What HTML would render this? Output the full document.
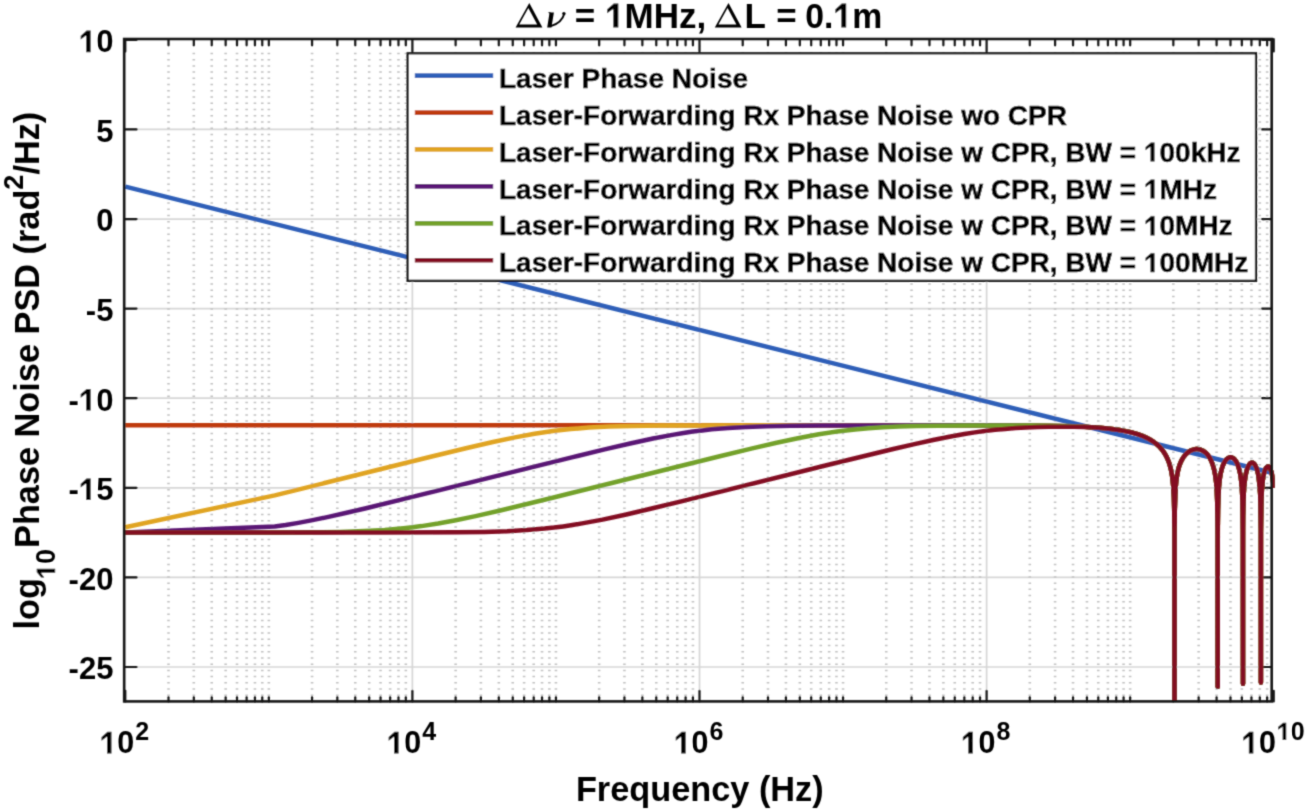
<!DOCTYPE html>
<html><head><meta charset="utf-8"><style>
html,body{margin:0;padding:0;background:#fff;}
body{width:1307px;height:811px;position:relative;overflow:hidden;font-family:"Liberation Sans",sans-serif;}
</style></head><body>
<svg width="1307" height="811" viewBox="0 0 1307 811" style="position:absolute;left:0;top:0"><defs><filter id="soft" filterUnits="userSpaceOnUse" x="0" y="0" width="1307" height="811"><feConvolveMatrix order="3" kernelMatrix="0.0622 0.2494 0.0622 0.2494 1.0000 0.2494 0.0622 0.2494 0.0622" edgeMode="none"></feConvolveMatrix></filter></defs><g filter="url(#soft)"><defs><clipPath id="ax"><rect x="121.2" y="39.0" width="1153.5" height="662.4"></rect></clipPath></defs><path d="M412.40,701.40V39.00M699.50,701.40V39.00M986.60,701.40V39.00M124.20,129.44H1271.70M124.20,219.03H1271.70M124.20,308.62H1271.70M124.20,398.22H1271.70M124.20,487.82H1271.70M124.20,577.41H1271.70M124.20,667.00H1271.70" stroke="#d6d6d6" stroke-width="1.7" fill="none"></path><path d="M168.51,702.30V48.2M193.79,702.30V48.2M211.73,702.30V48.2M225.64,702.30V48.2M237.00,702.30V48.2M246.61,702.30V48.2M254.94,702.30V48.2M262.28,702.30V48.2M268.85,702.30V48.2M312.06,702.30V48.2M337.34,702.30V48.2M355.28,702.30V48.2M369.19,702.30V48.2M380.55,702.30V48.2M390.16,702.30V48.2M398.49,702.30V48.2M405.83,702.30V48.2M455.61,702.30V48.2M480.89,702.30V48.2M498.83,702.30V48.2M512.74,702.30V48.2M524.10,702.30V48.2M533.71,702.30V48.2M542.04,702.30V48.2M549.38,702.30V48.2M555.95,702.30V48.2M599.16,702.30V48.2M624.44,702.30V48.2M642.38,702.30V48.2M656.29,702.30V48.2M667.65,702.30V48.2M677.26,702.30V48.2M685.59,702.30V48.2M692.93,702.30V48.2M742.71,702.30V48.2M767.99,702.30V48.2M785.93,702.30V48.2M799.84,702.30V48.2M811.20,702.30V48.2M820.81,702.30V48.2M829.14,702.30V48.2M836.48,702.30V48.2M843.05,702.30V48.2M886.26,702.30V48.2M911.54,702.30V48.2M929.48,702.30V48.2M943.39,702.30V48.2M954.75,702.30V48.2M964.36,702.30V48.2M972.69,702.30V48.2M980.03,702.30V48.2M1029.81,702.30V48.2M1055.09,702.30V48.2M1073.03,702.30V48.2M1086.94,702.30V48.2M1098.30,702.30V48.2M1107.91,702.30V48.2M1116.24,702.30V48.2M1123.58,702.30V48.2M1130.15,702.30V48.2M1173.36,702.30V48.2M1198.64,702.30V48.2M1216.58,702.30V48.2M1230.49,702.30V48.2M1241.85,702.30V48.2M1251.46,702.30V48.2M1259.79,702.30V48.2M1267.13,702.30V48.2" stroke="#c2c2c2" stroke-width="2.6" stroke-dasharray="1.5 4.732" fill="none"></path><path d="M125.30,701.40v-10.6M125.30,39.00v12.5M412.40,701.40v-10.6M412.40,39.00v12.5M699.50,701.40v-10.6M699.50,39.00v12.5M986.60,701.40v-10.6M986.60,39.00v12.5M1273.70,701.40v-10.6M1273.70,39.00v12.5M168.51,701.40v-4.3M168.51,39.00v6.3M193.79,701.40v-4.3M193.79,39.00v6.3M211.73,701.40v-4.3M211.73,39.00v6.3M225.64,701.40v-4.3M225.64,39.00v6.3M237.00,701.40v-4.3M237.00,39.00v6.3M246.61,701.40v-4.3M246.61,39.00v6.3M254.94,701.40v-4.3M254.94,39.00v6.3M262.28,701.40v-4.3M262.28,39.00v6.3M268.85,701.40v-4.3M268.85,39.00v6.3M312.06,701.40v-4.3M312.06,39.00v6.3M337.34,701.40v-4.3M337.34,39.00v6.3M355.28,701.40v-4.3M355.28,39.00v6.3M369.19,701.40v-4.3M369.19,39.00v6.3M380.55,701.40v-4.3M380.55,39.00v6.3M390.16,701.40v-4.3M390.16,39.00v6.3M398.49,701.40v-4.3M398.49,39.00v6.3M405.83,701.40v-4.3M405.83,39.00v6.3M455.61,701.40v-4.3M455.61,39.00v6.3M480.89,701.40v-4.3M480.89,39.00v6.3M498.83,701.40v-4.3M498.83,39.00v6.3M512.74,701.40v-4.3M512.74,39.00v6.3M524.10,701.40v-4.3M524.10,39.00v6.3M533.71,701.40v-4.3M533.71,39.00v6.3M542.04,701.40v-4.3M542.04,39.00v6.3M549.38,701.40v-4.3M549.38,39.00v6.3M555.95,701.40v-4.3M555.95,39.00v6.3M599.16,701.40v-4.3M599.16,39.00v6.3M624.44,701.40v-4.3M624.44,39.00v6.3M642.38,701.40v-4.3M642.38,39.00v6.3M656.29,701.40v-4.3M656.29,39.00v6.3M667.65,701.40v-4.3M667.65,39.00v6.3M677.26,701.40v-4.3M677.26,39.00v6.3M685.59,701.40v-4.3M685.59,39.00v6.3M692.93,701.40v-4.3M692.93,39.00v6.3M742.71,701.40v-4.3M742.71,39.00v6.3M767.99,701.40v-4.3M767.99,39.00v6.3M785.93,701.40v-4.3M785.93,39.00v6.3M799.84,701.40v-4.3M799.84,39.00v6.3M811.20,701.40v-4.3M811.20,39.00v6.3M820.81,701.40v-4.3M820.81,39.00v6.3M829.14,701.40v-4.3M829.14,39.00v6.3M836.48,701.40v-4.3M836.48,39.00v6.3M843.05,701.40v-4.3M843.05,39.00v6.3M886.26,701.40v-4.3M886.26,39.00v6.3M911.54,701.40v-4.3M911.54,39.00v6.3M929.48,701.40v-4.3M929.48,39.00v6.3M943.39,701.40v-4.3M943.39,39.00v6.3M954.75,701.40v-4.3M954.75,39.00v6.3M964.36,701.40v-4.3M964.36,39.00v6.3M972.69,701.40v-4.3M972.69,39.00v6.3M980.03,701.40v-4.3M980.03,39.00v6.3M1029.81,701.40v-4.3M1029.81,39.00v6.3M1055.09,701.40v-4.3M1055.09,39.00v6.3M1073.03,701.40v-4.3M1073.03,39.00v6.3M1086.94,701.40v-4.3M1086.94,39.00v6.3M1098.30,701.40v-4.3M1098.30,39.00v6.3M1107.91,701.40v-4.3M1107.91,39.00v6.3M1116.24,701.40v-4.3M1116.24,39.00v6.3M1123.58,701.40v-4.3M1123.58,39.00v6.3M1130.15,701.40v-4.3M1130.15,39.00v6.3M1173.36,701.40v-4.3M1173.36,39.00v6.3M1198.64,701.40v-4.3M1198.64,39.00v6.3M1216.58,701.40v-4.3M1216.58,39.00v6.3M1230.49,701.40v-4.3M1230.49,39.00v6.3M1241.85,701.40v-4.3M1241.85,39.00v6.3M1251.46,701.40v-4.3M1251.46,39.00v6.3M1259.79,701.40v-4.3M1259.79,39.00v6.3M1267.13,701.40v-4.3M1267.13,39.00v6.3M124.20,39.84h12.4M1271.70,39.84h-9.6M124.20,129.44h12.4M1271.70,129.44h-9.6M124.20,219.03h12.4M1271.70,219.03h-9.6M124.20,308.62h12.4M1271.70,308.62h-9.6M124.20,398.22h12.4M1271.70,398.22h-9.6M124.20,487.82h12.4M1271.70,487.82h-9.6M124.20,577.41h12.4M1271.70,577.41h-9.6M124.20,667.00h12.4M1271.70,667.00h-9.6" stroke="#141414" stroke-width="2.2" stroke-linecap="round" fill="none"></path><g clip-path="url(#ax)" fill="none" stroke-width="4.50" stroke-linejoin="round" stroke-linecap="butt"><path d="M125.3,186.6L1273.7,473.3" stroke="#2d5eb8"></path><path d="M125.3,425.3L927.0,425.3L993.1,425.4L1032.0,425.6L1054.2,425.9L1072.1,426.3L1087.1,426.9L1099.8,427.7L1111.1,428.8L1120.9,430.2L1129.5,431.9L1137.0,434.0L1141.2,435.4L1145.1,437.0L1148.6,438.8L1151.9,440.7L1154.9,442.8L1157.7,445.0L1160.2,447.5L1162.4,450.2L1164.4,453.0L1166.2,456.0L1167.7,459.3L1169.1,462.8L1170.2,466.6L1171.2,470.6L1172.0,475.0L1172.7,480.1L1173.4,487.7L1173.9,497.0L1174.2,507.3L1174.4,522.4L1174.5,549.4L1174.5,756.6L1174.5,545.1L1174.8,509.6L1175.3,493.7L1175.7,487.3L1176.2,481.4L1176.9,476.5L1177.7,471.9L1178.7,467.9L1179.8,464.3L1181.5,460.4L1183.5,457.1L1185.8,454.2L1188.4,452.0L1189.8,451.1L1191.3,450.3L1192.7,449.7L1194.2,449.3L1195.7,449.1L1197.2,449.1L1198.7,449.2L1200.2,449.6L1202.8,450.7L1205.3,452.4L1207.6,454.7L1209.6,457.6L1211.3,461.0L1212.8,465.0L1214.1,469.5L1215.1,474.5L1216.1,481.9L1216.8,490.7L1217.2,501.0L1217.5,516.4L1217.7,544.5L1217.7,686.7L1217.7,550.1L1218.0,510.0L1218.4,496.0L1219.1,485.0L1219.6,480.2L1220.2,476.1L1220.9,472.4L1221.7,469.1L1222.7,465.9L1224.0,463.0L1225.3,460.8L1226.8,459.0L1228.4,457.8L1230.0,457.3L1230.9,457.3L1231.7,457.4L1233.3,458.2L1234.7,459.5L1236.1,461.4L1237.3,463.7L1238.4,466.6L1239.3,469.9L1240.2,473.8L1240.9,478.2L1241.4,482.9L1242.0,489.8L1242.4,498.0L1242.8,521.0L1242.9,542.4L1243.0,683.7L1243.0,553.8L1243.1,517.6L1243.4,503.4L1243.8,493.0L1244.4,484.5L1245.3,477.2L1246.0,473.4L1246.8,470.2L1247.7,467.5L1248.7,465.3L1249.8,463.8L1251.0,462.8L1251.6,462.6L1252.2,462.6L1252.8,462.7L1253.4,463.0L1254.5,464.1L1255.6,465.8L1256.5,468.0L1257.4,470.8L1258.1,473.9L1258.7,477.7L1259.7,487.0L1260.2,494.4L1260.5,502.5L1260.8,527.6L1260.9,682.4L1261.0,532.8L1261.3,505.5L1261.5,497.4L1261.9,489.7L1262.8,480.2L1263.4,476.3L1264.1,473.0L1264.9,470.4L1265.8,468.3L1266.8,467.1L1267.3,466.7L1267.8,466.5L1268.3,466.5L1268.8,466.8L1269.7,467.8L1270.6,469.6L1271.4,472.0L1272.1,475.0L1272.8,478.8L1273.7,488.0" stroke="#bf3b10"></path><path d="M125.3,527.3L274.8,495.4L432.8,456.2L467.0,448.0L492.9,442.0L515.0,437.4L534.5,433.8L552.8,431.1L561.7,430.0L570.8,429.1L588.9,427.6L608.9,426.6L632.1,426.0L661.4,425.6L699.1,425.4L760.8,425.3L944.2,425.3L1011.7,425.5L1037.1,425.6L1057.1,425.9L1073.5,426.3L1087.4,426.9L1099.6,427.7L1110.2,428.7L1119.6,430.0L1127.9,431.5L1133.1,432.8L1137.9,434.2L1142.3,435.8L1146.4,437.6L1150.1,439.6L1153.5,441.7L1156.6,444.1L1159.4,446.7L1161.8,449.4L1164.0,452.4L1166.0,455.7L1167.7,459.2L1169.1,463.0L1170.4,467.2L1171.4,471.6L1172.2,476.6L1173.2,485.7L1173.9,496.9L1174.2,509.5L1174.5,531.8L1174.5,756.6L1174.5,531.2L1174.8,509.2L1175.3,493.6L1175.7,487.2L1176.2,481.4L1176.9,476.5L1177.7,472.1L1178.6,468.0L1179.8,464.5L1181.5,460.5L1183.5,457.1L1185.8,454.3L1188.3,452.0L1189.7,451.1L1191.2,450.3L1192.6,449.8L1194.1,449.4L1195.7,449.1L1197.2,449.1L1198.7,449.2L1200.1,449.5L1202.8,450.6L1205.3,452.4L1207.5,454.6L1209.5,457.5L1211.3,460.9L1212.8,464.8L1214.0,469.3L1215.1,474.4L1216.1,481.9L1216.8,490.7L1217.2,500.9L1217.5,515.5L1217.7,531.1L1217.7,686.7L1217.7,531.8L1218.0,509.6L1218.4,495.9L1219.1,485.0L1219.6,480.2L1220.2,476.0L1220.9,472.4L1221.7,469.1L1222.7,465.9L1224.0,463.0L1225.3,460.8L1226.8,459.0L1228.4,457.8L1230.0,457.3L1230.9,457.3L1231.7,457.4L1233.3,458.2L1234.7,459.5L1236.1,461.4L1237.3,463.7L1238.4,466.6L1239.3,469.9L1240.2,473.8L1240.9,478.2L1241.4,482.9L1242.0,490.6L1242.5,500.8L1242.7,511.7L1242.9,530.7L1243.0,683.7L1243.0,532.1L1243.1,516.5L1243.4,503.2L1243.8,492.9L1244.4,484.0L1245.3,477.2L1246.0,473.4L1246.8,470.2L1247.7,467.5L1248.7,465.3L1249.8,463.8L1251.0,462.8L1251.6,462.6L1252.2,462.6L1252.8,462.7L1253.4,463.0L1254.5,464.1L1255.6,465.8L1256.5,468.0L1257.4,470.8L1258.1,473.9L1258.7,477.7L1259.7,487.0L1260.2,494.3L1260.5,504.2L1260.9,530.3L1260.9,682.4L1260.9,532.3L1261.3,505.3L1261.5,497.3L1261.9,489.7L1262.8,480.2L1263.4,476.3L1264.1,473.0L1264.9,470.4L1265.8,468.3L1266.8,467.1L1267.3,466.7L1267.8,466.5L1268.3,466.5L1268.8,466.8L1269.7,467.8L1270.6,469.6L1271.4,472.0L1272.1,475.0L1272.8,478.8L1273.7,488.0" stroke="#e0a423"></path><path d="M125.3,532.5L274.8,526.6L285.7,525.0L296.9,523.1L311.4,520.4L327.3,517.1L345.5,513.0L367.1,508.0L416.4,495.9L572.8,457.1L604.6,449.4L629.0,443.7L653.0,438.5L673.8,434.6L683.5,433.0L692.9,431.6L702.2,430.4L711.6,429.3L728.1,427.9L746.0,426.9L766.2,426.2L790.6,425.7L821.5,425.5L866.6,425.4L960.2,425.3L1015.3,425.5L1058.5,425.9L1074.4,426.4L1087.8,426.9L1099.6,427.7L1110.0,428.7L1119.1,429.9L1127.3,431.4L1132.5,432.7L1137.4,434.1L1141.9,435.7L1146.0,437.4L1149.8,439.4L1153.3,441.6L1156.4,444.0L1159.2,446.5L1161.7,449.3L1164.0,452.3L1165.9,455.6L1167.6,459.1L1169.1,462.8L1170.3,467.0L1171.4,471.6L1172.2,476.6L1173.2,485.7L1173.9,496.9L1174.2,509.5L1174.5,531.8L1174.5,756.6L1174.5,531.2L1174.8,509.2L1175.3,493.6L1175.7,487.2L1176.2,481.4L1176.9,476.5L1177.7,472.1L1178.6,468.0L1179.8,464.5L1181.5,460.5L1183.5,457.1L1185.8,454.3L1188.3,452.0L1189.7,451.1L1191.2,450.3L1192.6,449.8L1194.1,449.4L1195.7,449.1L1197.2,449.1L1198.7,449.2L1200.1,449.5L1202.8,450.6L1205.3,452.4L1207.5,454.6L1209.5,457.5L1211.3,460.9L1212.8,464.8L1214.0,469.3L1215.1,474.4L1216.1,481.9L1216.8,490.7L1217.2,500.9L1217.5,515.5L1217.7,531.1L1217.7,686.7L1217.7,531.8L1218.0,509.6L1218.4,495.9L1219.1,485.0L1219.6,480.2L1220.2,476.0L1220.9,472.4L1221.7,469.1L1222.7,465.9L1224.0,463.0L1225.3,460.8L1226.8,459.0L1228.4,457.8L1230.0,457.3L1230.9,457.3L1231.7,457.4L1233.3,458.2L1234.7,459.5L1236.1,461.4L1237.3,463.7L1238.4,466.6L1239.3,469.9L1240.2,473.8L1240.9,478.2L1241.4,482.9L1242.0,490.6L1242.5,500.8L1242.7,511.7L1242.9,530.7L1243.0,683.7L1243.0,532.1L1243.1,516.5L1243.4,503.2L1243.8,492.9L1244.4,484.0L1245.3,477.2L1246.0,473.4L1246.8,470.2L1247.7,467.5L1248.7,465.3L1249.8,463.8L1251.0,462.8L1251.6,462.6L1252.2,462.6L1252.8,462.7L1253.4,463.0L1254.5,464.1L1255.6,465.8L1256.5,468.0L1257.4,470.8L1258.1,473.9L1258.7,477.7L1259.7,487.0L1260.2,494.3L1260.5,504.2L1260.9,530.3L1260.9,682.4L1260.9,532.3L1261.3,505.3L1261.5,497.3L1261.9,489.7L1262.8,480.2L1263.4,476.3L1264.1,473.0L1264.9,470.4L1265.8,468.3L1266.8,467.1L1267.3,466.7L1267.8,466.5L1268.3,466.5L1268.8,466.8L1269.7,467.8L1270.6,469.6L1271.4,472.0L1272.1,475.0L1272.8,478.8L1273.7,488.0" stroke="#5a1775"></path><path d="M125.3,532.6L279.1,532.5L314.2,532.3L340.4,531.9L364.2,531.1L384.7,530.0L403.5,528.3L412.5,527.3L421.6,526.1L438.1,523.5L455.8,520.2L475.6,516.1L499.2,510.7L552.6,497.7L720.8,456.0L752.3,448.4L776.6,442.8L799.1,438.0L818.8,434.3L837.1,431.5L855.1,429.4L868.6,428.2L883.0,427.2L898.7,426.5L916.5,426.0L938.3,425.7L965.4,425.5L999.6,425.5L1030.7,425.6L1066.1,426.1L1079.8,426.6L1091.6,427.2L1102.2,427.9L1111.5,428.9L1119.8,430.0L1127.3,431.4L1132.5,432.7L1137.4,434.1L1141.9,435.7L1146.0,437.4L1149.8,439.4L1153.3,441.6L1156.4,444.0L1159.2,446.5L1161.7,449.3L1164.0,452.3L1165.9,455.6L1167.6,459.1L1169.1,462.8L1170.3,467.0L1171.4,471.6L1172.2,476.6L1173.2,485.7L1173.9,496.9L1174.2,509.5L1174.5,531.8L1174.5,756.6L1174.5,531.2L1174.8,509.2L1175.3,493.6L1175.7,487.2L1176.2,481.4L1176.9,476.5L1177.7,472.1L1178.6,468.0L1179.8,464.5L1181.5,460.5L1183.5,457.1L1185.8,454.3L1188.3,452.0L1189.7,451.1L1191.2,450.3L1192.6,449.8L1194.1,449.4L1195.7,449.1L1197.2,449.1L1198.7,449.2L1200.1,449.5L1202.8,450.6L1205.3,452.4L1207.5,454.6L1209.5,457.5L1211.3,460.9L1212.8,464.8L1214.0,469.3L1215.1,474.4L1216.1,481.9L1216.8,490.7L1217.2,500.9L1217.5,515.5L1217.7,531.1L1217.7,686.7L1217.7,531.8L1218.0,509.6L1218.4,495.9L1219.1,485.0L1219.6,480.2L1220.2,476.0L1220.9,472.4L1221.7,469.1L1222.7,465.9L1224.0,463.0L1225.3,460.8L1226.8,459.0L1228.4,457.8L1230.0,457.3L1230.9,457.3L1231.7,457.4L1233.3,458.2L1234.7,459.5L1236.1,461.4L1237.3,463.7L1238.4,466.6L1239.3,469.9L1240.2,473.8L1240.9,478.2L1241.4,482.9L1242.0,490.6L1242.5,500.8L1242.7,511.7L1242.9,530.7L1243.0,683.7L1243.0,532.1L1243.1,516.5L1243.4,503.2L1243.8,492.9L1244.4,484.0L1245.3,477.2L1246.0,473.4L1246.8,470.2L1247.7,467.5L1248.7,465.3L1249.8,463.8L1251.0,462.8L1251.6,462.6L1252.2,462.6L1252.8,462.7L1253.4,463.0L1254.5,464.1L1255.6,465.8L1256.5,468.0L1257.4,470.8L1258.1,473.9L1258.7,477.7L1259.7,487.0L1260.2,494.3L1260.5,504.2L1260.9,530.3L1260.9,682.4L1260.9,532.3L1261.3,505.3L1261.5,497.3L1261.9,489.7L1262.8,480.2L1263.4,476.3L1264.1,473.0L1264.9,470.4L1265.8,468.3L1266.8,467.1L1267.3,466.7L1267.8,466.5L1268.3,466.5L1268.8,466.8L1269.7,467.8L1270.6,469.6L1271.4,472.0L1272.1,475.0L1272.8,478.8L1273.7,488.0" stroke="#73a12c"></path><path d="M125.3,532.6L382.3,532.6L456.5,532.3L484.6,531.9L507.1,531.2L526.7,530.1L544.7,528.6L554.0,527.6L563.2,526.4L572.5,525.0L582.1,523.4L602.6,519.6L626.3,514.5L650.6,508.8L682.3,501.1L841.8,461.5L892.2,449.2L914.5,444.1L933.1,440.0L949.4,436.7L964.4,434.0L974.8,432.4L984.9,431.0L994.9,429.8L1005.0,428.9L1015.4,428.1L1026.2,427.5L1037.4,427.0L1049.0,426.8L1061.4,426.7L1073.6,426.8L1084.9,427.1L1095.3,427.6L1104.6,428.3L1113.0,429.2L1120.7,430.3L1127.6,431.6L1132.8,432.8L1137.6,434.2L1142.1,435.8L1146.2,437.6L1149.9,439.5L1153.4,441.7L1156.5,444.0L1159.3,446.6L1161.8,449.4L1164.0,452.3L1165.9,455.6L1167.6,459.1L1169.1,462.9L1170.3,467.0L1171.4,471.6L1172.2,476.6L1173.2,485.8L1173.9,496.9L1174.2,509.5L1174.5,531.8L1174.5,756.6L1174.5,531.2L1174.8,509.2L1175.3,493.6L1175.7,487.3L1176.2,481.4L1176.9,476.5L1177.7,471.9L1178.7,467.9L1179.8,464.4L1181.5,460.5L1183.5,457.1L1185.8,454.3L1188.4,452.0L1189.8,451.1L1191.3,450.3L1192.7,449.8L1194.2,449.4L1195.7,449.1L1197.2,449.1L1198.7,449.2L1200.2,449.6L1202.8,450.7L1205.3,452.4L1207.6,454.7L1209.6,457.6L1211.3,461.0L1212.8,465.0L1214.1,469.5L1215.1,474.5L1216.1,481.9L1216.8,490.7L1217.2,500.9L1217.5,515.5L1217.7,531.1L1217.7,686.7L1217.7,531.8L1218.0,509.6L1218.4,495.9L1219.1,485.0L1219.6,480.2L1220.2,476.1L1220.9,472.4L1221.7,469.1L1222.7,465.9L1224.0,463.0L1225.3,460.8L1226.8,459.0L1228.4,457.8L1230.0,457.3L1230.9,457.3L1231.7,457.4L1233.3,458.2L1234.7,459.5L1236.1,461.4L1237.3,463.7L1238.4,466.6L1239.3,469.9L1240.2,473.8L1240.9,478.2L1241.4,482.9L1242.0,490.6L1242.5,500.8L1242.7,511.7L1242.9,530.7L1243.0,683.7L1243.0,532.1L1243.1,516.5L1243.4,503.2L1243.8,492.9L1244.4,484.0L1245.3,477.2L1246.0,473.4L1246.8,470.2L1247.7,467.5L1248.7,465.3L1249.8,463.8L1251.0,462.8L1251.6,462.6L1252.2,462.6L1252.8,462.7L1253.4,463.0L1254.5,464.1L1255.6,465.8L1256.5,468.0L1257.4,470.8L1258.1,473.9L1258.7,477.7L1259.7,487.0L1260.2,494.3L1260.5,504.2L1260.9,530.3L1260.9,682.4L1260.9,532.3L1261.3,505.3L1261.5,497.3L1261.9,489.7L1262.8,480.2L1263.4,476.3L1264.1,473.0L1264.9,470.4L1265.8,468.3L1266.8,467.1L1267.3,466.7L1267.8,466.5L1268.3,466.5L1268.8,466.8L1269.7,467.8L1270.6,469.6L1271.4,472.0L1272.1,475.0L1272.8,478.8L1273.7,488.0" stroke="#830c24"></path></g><rect x="124.2" y="39.0" width="1147.50" height="662.40" fill="none" stroke="#141414" stroke-width="2.6"></rect><rect x="407.6" y="53.3" width="848.4" height="227.5" fill="#fff" stroke="#141414" stroke-width="2.3"></rect><path d="M414.8,75.60H493.2" stroke="#2d5eb8" stroke-width="4.7"></path><text x="499" y="87.80" font-family="Liberation Sans" font-weight="bold" font-size="28" fill="#000" stroke="#000" stroke-width="0.5">Laser Phase Noise</text><path d="M414.8,112.53H493.2" stroke="#bf3b10" stroke-width="4.7"></path><text x="499" y="124.70" font-family="Liberation Sans" font-weight="bold" font-size="28" fill="#000" stroke="#000" stroke-width="0.5">Laser-Forwarding Rx Phase Noise wo CPR</text><path d="M414.8,149.46H493.2" stroke="#e0a423" stroke-width="4.7"></path><text x="499" y="161.60" font-family="Liberation Sans" font-weight="bold" font-size="28" fill="#000" stroke="#000" stroke-width="0.5">Laser-Forwarding Rx Phase Noise w CPR, BW = 100kHz</text><rect x="1144.46" y="141.54" width="15.37" height="21.66" fill="#fff"></rect><path d="M1150.47,161.60L1150.47,146.83L1145.56,150.35L1145.54,147.03L1150.84,142.51L1154.53,142.51L1154.53,161.60Z" fill="#000"></path><path d="M414.8,186.39H493.2" stroke="#5a1775" stroke-width="4.7"></path><text x="499" y="198.50" font-family="Liberation Sans" font-weight="bold" font-size="28" fill="#000" stroke="#000" stroke-width="0.5">Laser-Forwarding Rx Phase Noise w CPR, BW = 1MHz</text><rect x="1144.46" y="178.44" width="15.37" height="21.66" fill="#fff"></rect><path d="M1150.47,198.50L1150.47,183.73L1145.56,187.25L1145.54,183.93L1150.84,179.41L1154.53,179.41L1154.53,198.50Z" fill="#000"></path><path d="M414.8,223.32H493.2" stroke="#73a12c" stroke-width="4.7"></path><text x="499" y="235.40" font-family="Liberation Sans" font-weight="bold" font-size="28" fill="#000" stroke="#000" stroke-width="0.5">Laser-Forwarding Rx Phase Noise w CPR, BW = 10MHz</text><rect x="1144.46" y="215.34" width="15.37" height="21.66" fill="#fff"></rect><path d="M1150.47,235.40L1150.47,220.63L1145.56,224.15L1145.54,220.83L1150.84,216.31L1154.53,216.31L1154.53,235.40Z" fill="#000"></path><path d="M414.8,260.25H493.2" stroke="#830c24" stroke-width="4.7"></path><text x="499" y="272.30" font-family="Liberation Sans" font-weight="bold" font-size="28" fill="#000" stroke="#000" stroke-width="0.5">Laser-Forwarding Rx Phase Noise w CPR, BW = 100MHz</text><rect x="1144.46" y="252.24" width="15.37" height="21.66" fill="#fff"></rect><path d="M1150.47,272.30L1150.47,257.53L1145.56,261.05L1145.54,257.73L1150.84,253.21L1154.53,253.21L1154.53,272.30Z" fill="#000"></path><text x="113.4" y="52.14" text-anchor="end" font-family="Liberation Sans" font-weight="bold" font-size="31" fill="#000">10</text><rect x="79.51" y="29.50" width="17.01" height="24.24" fill="#fff"></rect><path d="M86.15,52.14L86.15,35.46L80.73,39.44L80.70,35.69L86.56,30.58L90.65,30.58L90.65,52.14Z" fill="#000"></path><text x="113.4" y="141.74" text-anchor="end" font-family="Liberation Sans" font-weight="bold" font-size="31" fill="#000">5</text><text x="113.4" y="231.33" text-anchor="end" font-family="Liberation Sans" font-weight="bold" font-size="31" fill="#000">0</text><text x="113.4" y="320.93" text-anchor="end" font-family="Liberation Sans" font-weight="bold" font-size="31" fill="#000">-5</text><text x="113.4" y="410.52" text-anchor="end" font-family="Liberation Sans" font-weight="bold" font-size="31" fill="#000">-10</text><rect x="79.49" y="387.88" width="17.02" height="24.24" fill="#fff"></rect><path d="M86.15,410.52L86.15,393.84L80.72,397.82L80.69,394.07L86.56,388.96L90.65,388.96L90.65,410.52Z" fill="#000"></path><text x="113.4" y="500.12" text-anchor="end" font-family="Liberation Sans" font-weight="bold" font-size="31" fill="#000">-15</text><rect x="79.49" y="477.48" width="17.02" height="24.24" fill="#fff"></rect><path d="M86.15,500.12L86.15,483.44L80.72,487.42L80.69,483.67L86.56,478.56L90.65,478.56L90.65,500.12Z" fill="#000"></path><text x="113.4" y="589.71" text-anchor="end" font-family="Liberation Sans" font-weight="bold" font-size="31" fill="#000">-20</text><text x="113.4" y="679.30" text-anchor="end" font-family="Liberation Sans" font-weight="bold" font-size="31" fill="#000">-25</text><text x="99.75" y="753.4" font-family="Liberation Sans" font-weight="bold" font-size="31" fill="#000">10<tspan dx="1.0" dy="-13.4" font-size="25">2</tspan></text><rect x="100.34" y="730.76" width="17.01" height="24.24" fill="#fff"></rect><path d="M106.99,753.40L106.99,736.72L101.57,740.70L101.54,736.95L107.40,731.84L111.49,731.84L111.49,753.40Z" fill="#000"></path><text x="386.85" y="753.4" font-family="Liberation Sans" font-weight="bold" font-size="31" fill="#000">10<tspan dx="1.0" dy="-13.4" font-size="25">4</tspan></text><rect x="387.44" y="730.76" width="17.01" height="24.24" fill="#fff"></rect><path d="M394.09,753.40L394.09,736.72L388.67,740.70L388.64,736.95L394.50,731.84L398.59,731.84L398.59,753.40Z" fill="#000"></path><text x="673.95" y="753.4" font-family="Liberation Sans" font-weight="bold" font-size="31" fill="#000">10<tspan dx="1.0" dy="-13.4" font-size="25">6</tspan></text><rect x="674.54" y="730.76" width="17.01" height="24.24" fill="#fff"></rect><path d="M681.19,753.40L681.19,736.72L675.77,740.70L675.74,736.95L681.60,731.84L685.69,731.84L685.69,753.40Z" fill="#000"></path><text x="961.05" y="753.4" font-family="Liberation Sans" font-weight="bold" font-size="31" fill="#000">10<tspan dx="1.0" dy="-13.4" font-size="25">8</tspan></text><rect x="961.64" y="730.76" width="17.01" height="24.24" fill="#fff"></rect><path d="M968.29,753.40L968.29,736.72L962.87,740.70L962.84,736.95L968.70,731.84L972.79,731.84L972.79,753.40Z" fill="#000"></path><text x="1241.60" y="753.4" font-family="Liberation Sans" font-weight="bold" font-size="31" fill="#000">10<tspan dx="0.7" dy="-13.4" font-size="25">10</tspan></text><rect x="1242.19" y="730.76" width="17.01" height="24.24" fill="#fff"></rect><path d="M1248.84,753.40L1248.84,736.72L1243.42,740.70L1243.39,736.95L1249.25,731.84L1253.34,731.84L1253.34,753.40Z" fill="#000"></path><rect x="1277.26" y="721.89" width="13.71" height="19.71" fill="#fff"></rect><path d="M1282.62,740.00L1282.62,726.66L1278.25,729.84L1278.22,726.84L1282.95,722.75L1286.25,722.75L1286.25,740.00Z" fill="#000"></path><text x="699.8" y="800.9" text-anchor="middle" font-family="Liberation Sans" font-weight="bold" font-size="34.3" fill="#000">Frequency (Hz)</text><text transform="translate(39.3,370.6) rotate(-90)" text-anchor="middle" font-family="Liberation Sans" font-weight="bold" font-size="34.3" fill="#000">log<tspan dx="-1" dy="15.9" font-size="27">10</tspan><tspan dx="1" dy="-15.9">Phase Noise PSD (rad</tspan><tspan dy="-16" font-size="27">2</tspan><tspan dy="16">/Hz)</tspan></text><rect x="-207.92" y="-3.51" width="14.82" height="21.01" fill="#fff" transform="translate(39.3,370.6) rotate(-90)"></rect><path d="M-202.12,15.90L-202.12,1.61L-206.85,5.02L-206.87,1.80L-201.77,-2.58L-198.20,-2.58L-198.20,15.90Z" fill="#000" transform="translate(39.3,370.6) rotate(-90)"></path><path d="M529.30,3.0L542.40,27.6L515.60,27.6ZM528.35,8.0L537.20,24.5L519.20,24.5Z" fill="#000" fill-rule="evenodd"></path><path d="M728.50,3.0L741.60,27.6L714.80,27.6ZM727.55,8.0L736.40,24.5L718.40,24.5Z" fill="#000" fill-rule="evenodd"></path><path d="M549.6,12.4L553.9,12.4L551.4,27.4L547.2,27.4Z M548.0,12.4L550.5,12.0L550.2,14.0Z" fill="#000"></path><path d="M550.8,26.2C556.5,24.5 562.5,20.5 564.3,13.8" fill="none" stroke="#000" stroke-width="1.9"></path><circle cx="563.9" cy="13.6" r="1.7" fill="#000"></circle><text x="574.7" y="27.5" font-family="Liberation Sans" font-weight="bold" font-size="35" fill="#000">=</text><text x="605.1" y="27.5" font-family="Liberation Sans" font-weight="bold" font-size="35" fill="#000">1MHz,</text><rect x="605.77" y="2.27" width="19.20" height="26.83" fill="#fff"></rect><path d="M613.27,27.50L613.27,8.92L607.15,13.35L607.12,9.17L613.73,3.48L618.35,3.48L618.35,27.50Z" fill="#000"></path><text x="744.6" y="27.5" font-family="Liberation Sans" font-weight="bold" font-size="35" fill="#000">L</text><text x="776.2" y="27.5" font-family="Liberation Sans" font-weight="bold" font-size="35" fill="#000">=</text><text x="805.3" y="27.5" font-family="Liberation Sans" font-weight="bold" font-size="35" fill="#000" textLength="76.9" lengthAdjust="spacingAndGlyphs">0.1m</text><rect x="834.08" y="2.27" width="18.50" height="26.83" fill="#fff"></rect><path d="M841.31,27.50L841.31,8.92L835.41,13.35L835.38,9.17L841.75,3.48L846.20,3.48L846.20,27.50Z" fill="#000"></path></g></svg>
</body></html>
